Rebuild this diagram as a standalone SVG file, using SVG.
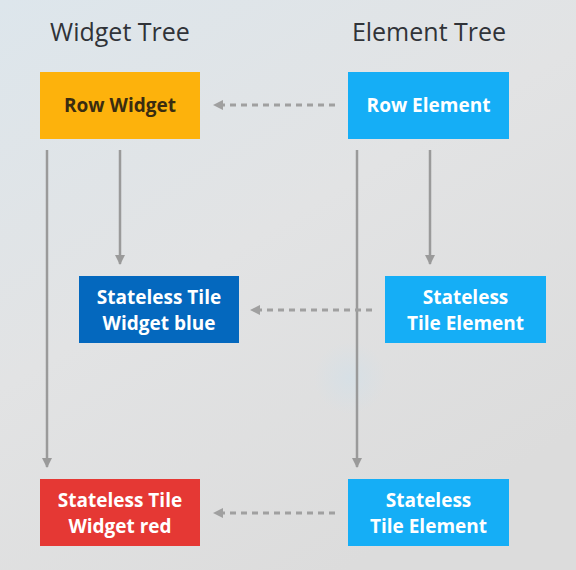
<svg xmlns="http://www.w3.org/2000/svg" width="576" height="570" viewBox="0 0 576 570">
  <defs>
    <linearGradient id="bg" x1="0" y1="0" x2="0.6" y2="1">
      <stop offset="0" stop-color="#dde6ec"/>
      <stop offset="0.5" stop-color="#e2e3e4"/>
      <stop offset="1" stop-color="#dcdcdc"/>
    </linearGradient>
    <radialGradient id="glow" cx="0.5" cy="0.5" r="0.5">
      <stop offset="0" stop-color="#d3e0e8" stop-opacity="0.7"/>
      <stop offset="1" stop-color="#d3e0e8" stop-opacity="0"/>
    </radialGradient>
    <marker id="head" viewBox="0 0 10 10" refX="9" refY="5" markerWidth="4" markerHeight="4" orient="auto">
      <path d="M0,0 L10,5 L0,10 z" fill="#9a9a9a"/>
    </marker>
    <marker id="headDash" viewBox="0 0 10 10" refX="9" refY="5" markerWidth="3.5" markerHeight="3.5" orient="auto">
      <path d="M0,0 L10,5 L0,10 z" fill="#a0a0a0"/>
    </marker>
  </defs>
  <style>
    .title { font-family: "Open Sans", "Liberation Sans", sans-serif; font-size: 25px; fill: #303338; text-anchor: middle; }
    .label { font-family: "Open Sans", "Liberation Sans", sans-serif; font-size: 19px; font-weight: 700; fill: #ffffff; text-anchor: middle; }
    .dark { fill: #3a2c10; }
    .tree { stroke: #9a9a9a; stroke-width: 2.5; fill: none; marker-end: url(#head); }
    .link { stroke: #a0a0a0; stroke-width: 3; stroke-dasharray: 6 5; fill: none; marker-end: url(#headDash); }
  </style>

  <rect width="576" height="570" fill="url(#bg)"/>
  <circle cx="350" cy="378" r="36" fill="url(#glow)"/>

  <text class="title" x="120" y="41">Widget Tree</text>
  <text class="title" x="429" y="41">Element Tree</text>

  <g id="connectors">
    <line class="tree" x1="47" y1="150" x2="47" y2="467"/>
    <line class="tree" x1="120" y1="150" x2="120" y2="264"/>
    <line class="tree" x1="357" y1="150" x2="357" y2="467"/>
    <line class="tree" x1="430" y1="150" x2="430" y2="264"/>
    <line class="link" x1="335" y1="105" x2="214" y2="105"/>
    <line class="link" x1="372" y1="310" x2="251" y2="310"/>
    <line class="link" x1="335" y1="513" x2="214" y2="513"/>
  </g>

  <g id="row-widget">
    <rect x="40" y="72" width="160" height="67" fill="#fdb20c"/>
    <text class="label dark" x="120" y="112">Row Widget</text>
  </g>
  <g id="row-element">
    <rect x="348" y="72" width="161" height="67" fill="#15aef6"/>
    <text class="label" x="428.5" y="112">Row Element</text>
  </g>
  <g id="tile-widget-blue">
    <rect x="79" y="276" width="160" height="67" fill="#0468be"/>
    <text class="label" x="159" y="304">Stateless Tile</text>
    <text class="label" x="159" y="330">Widget blue</text>
  </g>
  <g id="tile-element-mid">
    <rect x="385" y="276" width="161" height="67" fill="#15aef6"/>
    <text class="label" x="465.5" y="304">Stateless</text>
    <text class="label" x="465.5" y="330">Tile Element</text>
  </g>
  <g id="tile-widget-red">
    <rect x="40" y="479" width="160" height="67" fill="#e53834"/>
    <text class="label" x="120" y="507">Stateless Tile</text>
    <text class="label" x="120" y="533">Widget red</text>
  </g>
  <g id="tile-element-bottom">
    <rect x="348" y="479" width="161" height="67" fill="#15aef6"/>
    <text class="label" x="428.5" y="507">Stateless</text>
    <text class="label" x="428.5" y="533">Tile Element</text>
  </g>
</svg>
